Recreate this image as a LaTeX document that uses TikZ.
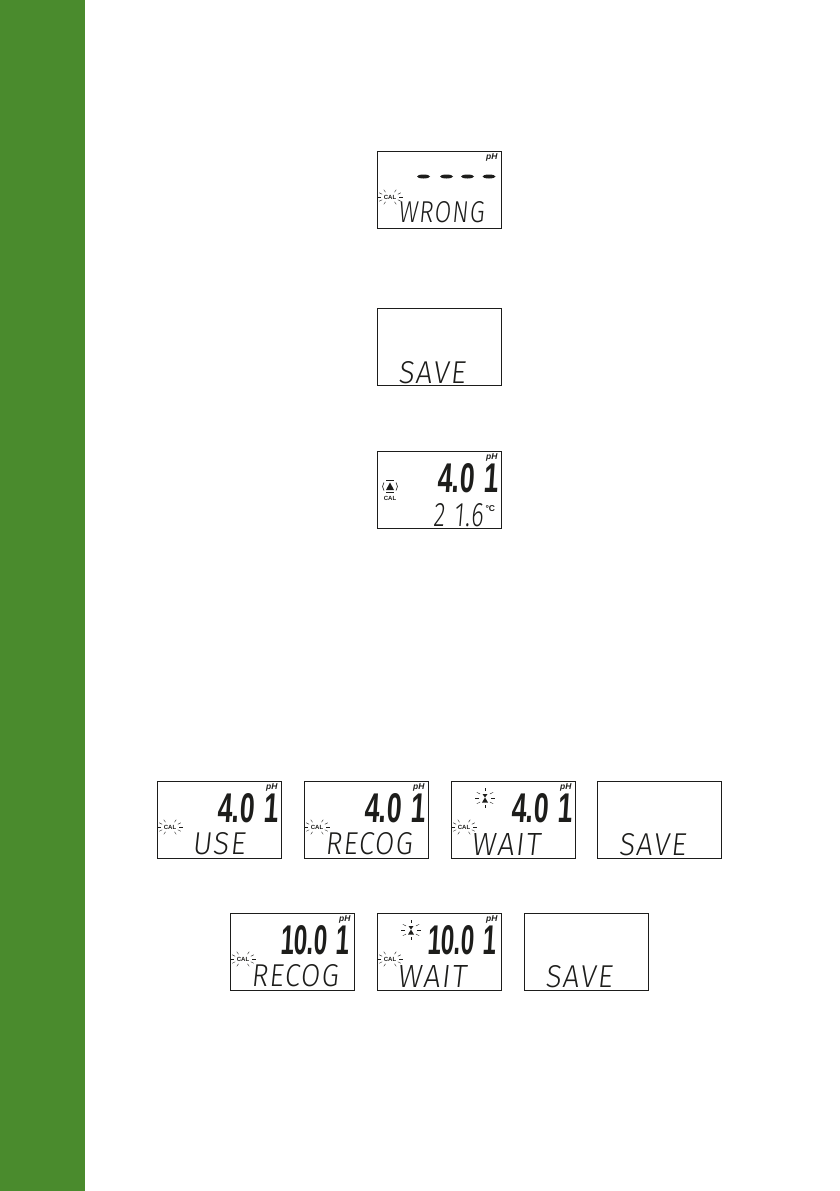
\documentclass[tikz,border=0pt]{standalone}
\usepackage{graphicx}
\usepackage{fontspec}
\usetikzlibrary{calc}
\setmainfont{Liberation Sans}
\newfontfamily\lcdthin{Fira Sans Light}[FakeSlant=0.12,LetterSpace=5]
\newfontfamily\lcdbold{Liberation Sans Bold}[FakeSlant=0.1]
\definecolor{band}{HTML}{4A8B2D}
\definecolor{ink}{HTML}{1D1D1B}
\tikzset{
  x=1pt,y=-1pt,
  panel/.style={draw=ink,line width=0.9pt,fill=white},
  lcdlabel/.style={inner sep=0pt,outer sep=0pt,anchor=south west,text=ink},
  tinylabel/.style={inner sep=0pt,outer sep=0pt,text=ink,font=\bfseries\fontsize{6}{7}\selectfont},
  ray/.style={draw=ink,line width=0.4pt},
}
% thin lower-row text: x-left, baseline, width, height, text
\newcommand{\lowtext}[5]{\node[lcdlabel] at (#1,#2) {\resizebox{#3pt}{#4pt}{\fontsize{30}{32}\lcdthin #5}};}
% big digit text
\newcommand{\bigtext}[5]{\node[lcdlabel] at (#1,#2) {\resizebox{#3pt}{#4pt}{\fontsize{40}{42}\lcdbold #5}};}
\newcommand{\lcdpanel}[3]{% x,y,content
  \begin{scope}[shift={(#1,#2)}]
    \draw[panel] (0,0) rectangle (124,77.5);
    #3
  \end{scope}
}
\newcommand{\phmark}{\node[tinylabel,anchor=east,font=\bfseries\itshape\fontsize{8.5}{9}\selectfont] at (120.5,6.5) {pH};}
\newcommand{\calblink}{%
  \node[tinylabel] at (13,46) {CAL};
  \foreach \a in {0,30,60,120,150,180,210,240,300,330}{
    \draw[ray] ($(13,46)+(\a:9 and 5.5)$) -- ($(13,46)+(\a:12.5 and 8.5)$);
  }
}
\newcommand{\beaker}{%
  \fill[ink] (31,21.5) -- (34,16.5) -- (37,21.5) -- cycle;
  \fill[ink] (31.5,13) -- (36.5,13) -- (34,16.5) -- cycle;
  \foreach \a in {0,35,90,145,180,215,270,325}{
    \draw[ray] ($(34,17)+(\a:6 and 7)$) -- ($(34,17)+(\a:10 and 10)$);
  }
}
\begin{document}
\begin{tikzpicture}
\useasboundingbox (0,0) rectangle (839,1191);
\fill[white] (0,0) rectangle (839,1191);
\fill[band] (0,0) rectangle (85,1191);

% WRONG
\lcdpanel{377}{151}{\phmark\calblink
  \foreach \d in {46.5,69.5,90.5,112}{\fill[ink] (\d,25.5) ellipse (6.5 and 2);}
  \lowtext{21}{72}{86}{21}{WRONG}}
% SAVE
\lcdpanel{377}{308}{\lowtext{21}{76}{67}{22}{SAVE}}
% 4.01 / 21.6
\lcdpanel{377}{451}{\phmark
  \fill[ink] (9,39) -- (13,31.5) -- (17,39) -- cycle;
  \draw[ink,line width=0.6pt] (7,31.5) .. controls (5,34) and (5,37) .. (7,39.5);
  \draw[ink,line width=0.6pt] (19,31.5) .. controls (21,34) and (21,37) .. (19,39.5);
  \draw[ink,line width=0.5pt] (9,29.5) -- (17,29.5) (9,41.5) -- (17,41.5);
  \node[tinylabel] at (13,47.5) {CAL};
  \bigtext{60}{42}{61}{29}{4.0\kern14pt 1}
  \lowtext{56}{76}{50}{23}{2\kern12pt 1.6}
  \node[tinylabel,anchor=west,font=\bfseries\fontsize{8.5}{9}\selectfont] at (108.5,58) {°C};}

% Row 1
\lcdpanel{157}{781}{\phmark\calblink
  \bigtext{60}{42}{61}{29}{4.0\kern14pt 1}
  \lowtext{35}{74}{53}{22}{USE}}
\lcdpanel{304}{781}{\phmark\calblink
  \bigtext{60}{42}{61}{29}{4.0\kern14pt 1}
  \lowtext{21}{74}{87}{22}{RECOG}}
\lcdpanel{451}{781}{\phmark\calblink\beaker
  \bigtext{60}{42}{61}{29}{4.0\kern14pt 1}
  \lowtext{20}{74}{69}{22}{WAIT}}
\lcdpanel{597.5}{781}{\lowtext{21}{75}{67}{22}{SAVE}}

% Row 2
\lcdpanel{230}{913}{\phmark\calblink
  \bigtext{50}{42}{69}{29}{10.0\kern14pt 1}
  \lowtext{21}{74}{87}{22}{RECOG}}
\lcdpanel{377}{913}{\phmark\calblink\beaker
  \bigtext{50}{42}{69}{29}{10.0\kern14pt 1}
  \lowtext{20}{74}{69}{22}{WAIT}}
\lcdpanel{524}{913}{\lowtext{21}{75}{67}{22}{SAVE}}
\end{tikzpicture}
\end{document}
